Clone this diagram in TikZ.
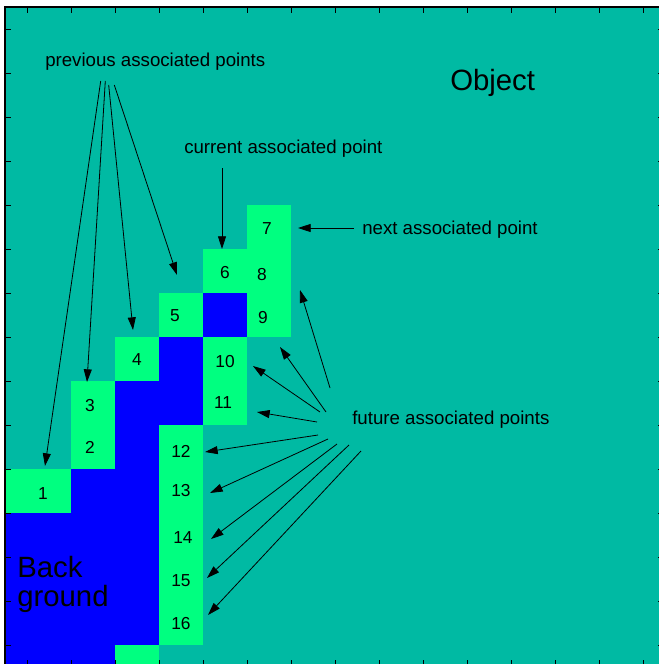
\documentclass[tikz,border=0pt]{standalone}
\usepackage{fontspec}
\setmainfont{Liberation Sans}
\usetikzlibrary{arrows.meta}
\definecolor{objteal}{RGB}{0,186,163}
\definecolor{ptgreen}{RGB}{0,255,128}
\definecolor{bgblue}{RGB}{0,0,255}

\begin{document}
\begin{tikzpicture}[x=0.75pt,y=-0.75pt,
  lbl/.style={font=\fontsize{14}{16}\selectfont, inner sep=0pt, anchor=base west},
  num/.style={font=\fontsize{13}{15}\selectfont, inner sep=0pt, text depth=0pt},
  big/.style={font=\fontsize{22}{22}\selectfont, inner sep=0pt, anchor=base west},
  ptr/.style={draw=black, line width=0.6pt, -{Triangle[length=9.5pt,width=6pt]}},
  tick/.style={line width=0.6pt},
  frame/.style={line width=0.8pt}]

\useasboundingbox (0,0) rectangle (659,664);
\begin{scope}
\clip (0,0) rectangle (659,664);

% object area
\fill[objteal] (5,7) rectangle (664,666);

% background region
\fill[bgblue] (71,469) rectangle (159,513);
\fill[bgblue] (115,381) rectangle (159,469);
\fill[bgblue] (159,337) rectangle (203,425);
\fill[bgblue] (203,293) rectangle (247,337);
\fill[bgblue] (5,513) rectangle (159,645);
\fill[bgblue] (5,645) rectangle (115,666);

% boundary (associated) pixels
\fill[ptgreen] (5,469) rectangle (71,513);
\fill[ptgreen] (71,381) rectangle (115,469);
\fill[ptgreen] (115,337) rectangle (159,381);
\fill[ptgreen] (159,293) rectangle (203,337);
\fill[ptgreen] (203,249) rectangle (247,293);
\fill[ptgreen] (247,205) rectangle (291,337);
\fill[ptgreen] (203,337) rectangle (247,425);
\fill[ptgreen] (159,425) rectangle (203,645);
\fill[ptgreen] (115,645) rectangle (159,666);

% axes frame and ticks
\draw[frame] (5,666) -- (5,7) -- (664,7) -- (664,666) -- cycle;
\foreach \k in {0,...,14} {
  \draw[tick] ({27+44*\k},7) -- ++(0,6);
  \draw[tick] ({27+44*\k},666) -- ++(0,-6);
  \draw[tick] (5,{29+44*\k}) -- ++(6,0);
  \draw[tick] (664,{29+44*\k}) -- ++(-6,0);
}

% pixel numbers
\node[num] (n1)  at (43,494)  {1};
\node[num] (n2)  at (90,447)  {2};
\node[num] (n3)  at (90,405)  {3};
\node[num] (n4)  at (137,360) {4};
\node[num] (n5)  at (175,316) {5};
\node[num] (n6)  at (225,272) {6};
\node[num] (n7)  at (267,229) {7};
\node[num] (n8)  at (262,274) {8};
\node[num] (n9)  at (263,317) {9};
\node[num] (n10) at (225,361) {10};
\node[num] (n11) at (223,403) {11};
\node[num] (n12) at (181,451) {12};
\node[num] (n13) at (181,490) {13};
\node[num] (n14) at (183,538) {14};
\node[num] (n15) at (181,581) {15};
\node[num] (n16) at (181,623) {16};

% region names
\node[big] (obj) at (450,90) {Object};
\node[big] (back) at (17,577) {Back};
\node[big] (grd) at (17,606) {ground};

% annotation labels
\node[lbl] (prev) at (45,66)  {previous associated points};
\node[lbl] (curr) at (184,153) {current associated point};
\node[lbl] (next) at (362,234) {next associated point};
\node[lbl] (fut)  at (352,424) {future associated points};

% arrow end points
\coordinate (p1s) at (100.7,81);  \coordinate (p1e) at (45,466);
\coordinate (p2s) at (105.3,81);  \coordinate (p2e) at (87,382);
\coordinate (p3s) at (108.7,85);  \coordinate (p3e) at (133,330);
\coordinate (p4s) at (114.3,85);  \coordinate (p4e) at (177,275);
\coordinate (cs)  at (222,168);   \coordinate (ce)  at (222,249);
\coordinate (xs)  at (354,228);   \coordinate (xe)  at (298,228);
\coordinate (f1s) at (330,388);   \coordinate (f1e) at (300,290);
\coordinate (f2s) at (326,412);   \coordinate (f2e) at (280,347);
\coordinate (f3s) at (320,412);   \coordinate (f3e) at (253,366);
\coordinate (f4s) at (317,422);   \coordinate (f4e) at (257,412);
\coordinate (f5s) at (318,435);   \coordinate (f5e) at (205,452);
\coordinate (f6s) at (328,439);   \coordinate (f6e) at (210,493);
\coordinate (f7s) at (337,444);   \coordinate (f7e) at (211,539);
\coordinate (f8s) at (349,445);   \coordinate (f8e) at (207,578);
\coordinate (f9s) at (361,451);   \coordinate (f9e) at (208,615);

% pointers
\foreach \a in {p1,p2,p3,p4,c,x,f1,f2,f3,f4,f5,f6,f7,f8,f9}
  \draw[ptr] (\a s) -- (\a e);
\end{scope}
\end{tikzpicture}
\end{document}
